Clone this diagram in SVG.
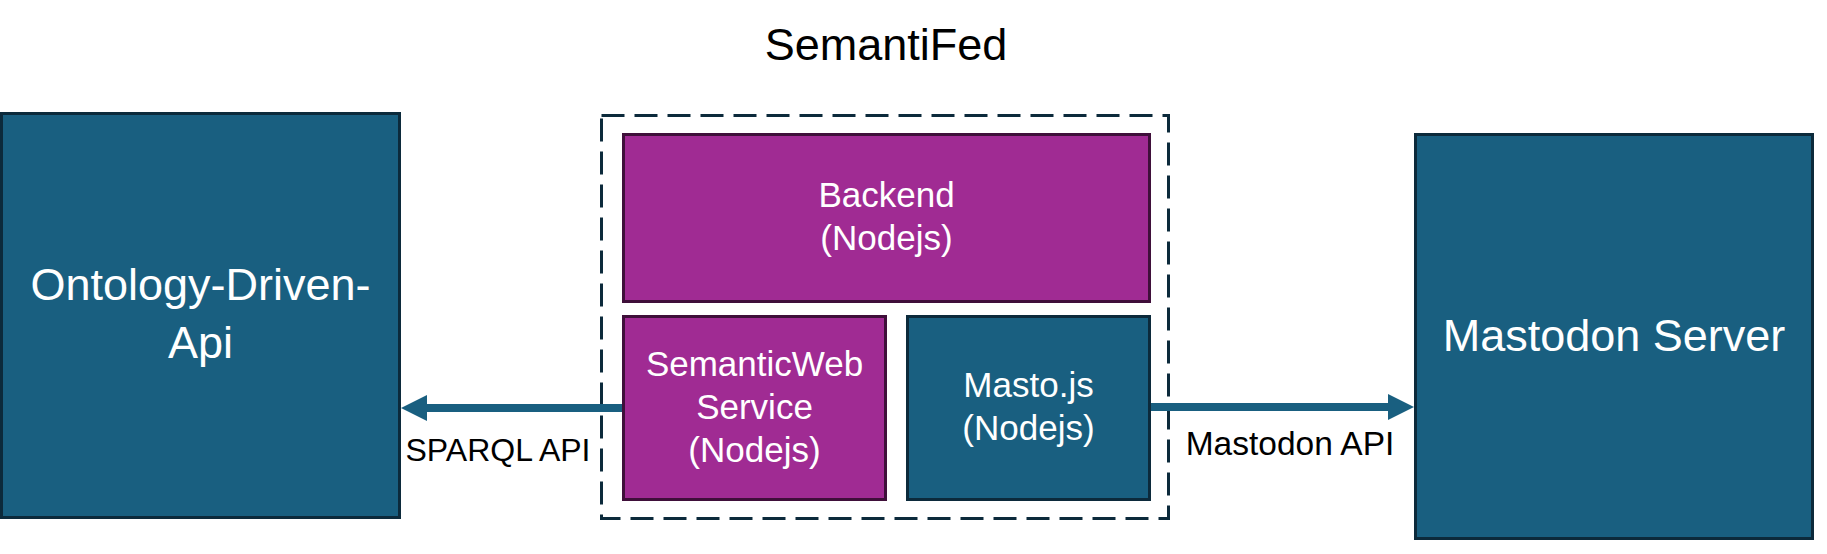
<svg xmlns="http://www.w3.org/2000/svg" width="1827" height="554" viewBox="0 0 1827 554">
  <style>
    .teal { fill: #195F80; stroke: #0C2A3B; stroke-width: 3; }
    .purple { fill: #A02B93; stroke: #3F0F3A; stroke-width: 3; }
    .group { fill: none; stroke: #0C2A3B; stroke-width: 3; stroke-dasharray: 23 10; }
    .lbl { font-family: "Liberation Sans", Arial, sans-serif; fill: #FFFFFF; text-anchor: middle; }
    .big { font-size: 45px; }
    .mid { font-size: 35px; }
    .dark { font-family: "Liberation Sans", Arial, sans-serif; fill: #000000; text-anchor: middle; }
    .shaft { stroke: #195F80; stroke-width: 8; fill: none; }
    .head { fill: #195F80; }
  </style>
  <rect width="1827" height="554" fill="#FFFFFF"/>

  <g id="semantifed-group">
    <rect class="group" x="601.5" y="115.5" width="567" height="403"/>
    <text class="dark big" x="886" y="60">SemantiFed</text>
  </g>

  <g id="ontology-driven-api">
    <rect class="teal" x="1.5" y="113.5" width="398" height="404"/>
    <text class="lbl big" x="200.5" y="300">Ontology-Driven-</text>
    <text class="lbl big" x="200.5" y="358">Api</text>
  </g>

  <g id="backend">
    <rect class="purple" x="623.5" y="134.5" width="526" height="167"/>
    <text class="lbl mid" x="886.5" y="207">Backend</text>
    <text class="lbl mid" x="886.5" y="250">(Nodejs)</text>
  </g>

  <g id="semanticweb-service">
    <rect class="purple" x="623.5" y="316.5" width="262" height="183"/>
    <text class="lbl mid" x="754.5" y="376">SemanticWeb</text>
    <text class="lbl mid" x="754.5" y="419">Service</text>
    <text class="lbl mid" x="754.5" y="462">(Nodejs)</text>
  </g>

  <g id="masto-js">
    <rect class="teal" x="907.5" y="316.5" width="242" height="183"/>
    <text class="lbl mid" x="1028.5" y="397">Masto.js</text>
    <text class="lbl mid" x="1028.5" y="440">(Nodejs)</text>
  </g>

  <g id="mastodon-server">
    <rect class="teal" x="1415.5" y="134.5" width="397" height="404"/>
    <text class="lbl big" x="1614" y="351">Mastodon Server</text>
  </g>

  <g id="connectors">
    <line class="shaft" x1="622" y1="408" x2="425" y2="408"/>
    <polygon class="head" points="401,408 427,395 427,421"/>
    <text class="dark" font-size="32" x="498" y="461">SPARQL API</text>

    <line class="shaft" x1="1151" y1="407" x2="1390" y2="407"/>
    <polygon class="head" points="1414,407 1388,394 1388,420"/>
    <text class="dark" font-size="33.5" x="1290" y="455">Mastodon API</text>
  </g>
</svg>
